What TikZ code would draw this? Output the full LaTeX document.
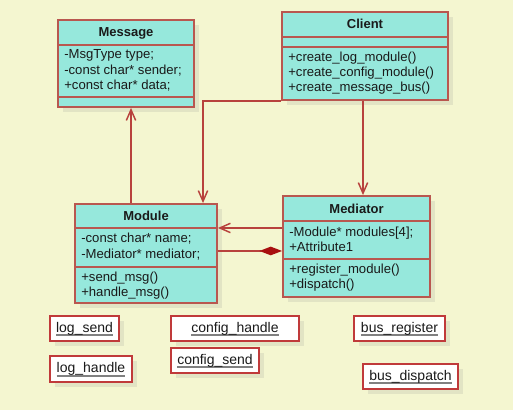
\documentclass[tikz,border=0pt]{standalone}
\usepackage{fontspec}
\setmainfont{Liberation Sans}
\usetikzlibrary{arrows.meta,fit,shadows,calc}
\definecolor{bgc}{HTML}{F4F6D0}
\definecolor{clsfill}{HTML}{96E8DC}
\definecolor{clsborder}{HTML}{B9574F}
\definecolor{lnc}{HTML}{B8423D}
\definecolor{diamc}{HTML}{A81010}
\definecolor{objborder}{HTML}{C03A3A}
\definecolor{shadowc}{HTML}{E2E4C4}
\definecolor{txtc}{HTML}{1A1A1A}
\definecolor{ulc}{HTML}{808080}
\newsavebox\oulbox
\newcommand\objul[1]{\sbox\oulbox{#1}\rlap{\textcolor{ulc}{\rule[-3.2pt]{\wd\oulbox}{1.5pt}}}\usebox\oulbox}
\begin{document}
\begin{tikzpicture}[x=0.75pt,y=-0.75pt,
  cls/.style={draw=clsborder, fill=clsfill, line width=1.4pt, inner sep=0pt,
    drop shadow={shadow xshift=4pt, shadow yshift=-4pt, fill=shadowc, opacity=1}},
  sep/.style={draw=clsborder, line width=1.4pt},
  ttl/.style={font=\fontsize{9.75}{11}\selectfont\bfseries, text=txtc, inner sep=0pt},
  mem/.style={font=\fontsize{9.85}{11}\selectfont, text=txtc, anchor=west, inner sep=0pt, text height=7pt, text depth=2pt},
  obj/.style={draw=objborder, fill=white, line width=1.3pt, inner sep=0pt,
    drop shadow={shadow xshift=4pt, shadow yshift=-4pt, fill=shadowc, opacity=1}},
  olab/.style={font=\fontsize{10.5}{12}\selectfont, text=txtc, inner sep=0pt, text height=7.5pt, text depth=2pt},
  conn/.style={draw=lnc, line width=1.1pt},
  openarr/.style={-{Straight Barb[length=8pt,width=7pt]}},
  comp/.style={-{Diamond[length=17pt,width=6.5pt,fill=diamc,color=diamc]}}
]
\fill[bgc] (0,0) rectangle (513,410);
\useasboundingbox (0,0) rectangle (513,410);

% Message
\node[cls, fit={(58,20) (194,107)}] (msg) {};
\draw[sep] (58,45) -- (194,45);
\draw[sep] (58,97) -- (194,97);
\node[ttl] (msgT) at (126,33) {Message};
\node[mem] (msg1) at (64,55) {-MsgType type;};
\node[mem] (msg2) at (64,71) {-const char* sender;};
\node[mem] (msg3) at (64,86) {+const char* data;};

% Client
\node[cls, fit={(282,12) (448,100)}] (cli) {};
\draw[sep] (282,37) -- (448,37);
\draw[sep] (282,47) -- (448,47);
\node[ttl] (cliT) at (365,24) {Client};
\node[mem] (cli1) at (288,58) {+create\_log\_module()};
\node[mem] (cli2) at (288,73) {+create\_config\_module()};
\node[mem] (cli3) at (288,88) {+create\_message\_bus()};

% Module
\node[cls, fit={(75,204) (217,303)}] (mod) {};
\draw[sep] (75,228) -- (217,228);
\draw[sep] (75,267) -- (217,267);
\node[ttl] (modT) at (146,216) {Module};
\node[mem] (mod1) at (81,239) {-const char* name;};
\node[mem] (mod2) at (81,255) {-Mediator* mediator;};
\node[mem] (mod3) at (81,278) {+send\_msg()};
\node[mem] (mod4) at (81,293) {+handle\_msg()};

% Mediator
\node[cls, fit={(283,196) (430,297)}] (med) {};
\draw[sep] (283,221) -- (430,221);
\draw[sep] (283,259) -- (430,259);
\node[ttl] (medT) at (356.5,209) {Mediator};
\node[mem] (med1) at (289,233) {-Module* modules[4];};
\node[mem] (med2) at (289,248) {+Attribute1};
\node[mem] (med3) at (289,270) {+register\_module()};
\node[mem] (med4) at (289,285) {+dispatch()};

% Objects
\node[obj, fit={(50,316) (119,341)}] (ls) {};
\node[olab] (lsT) at (ls.center) {\objul{log\_send}};
\node[obj, fit={(50,356) (132,382)}] (lh) {};
\node[olab] (lhT) at (lh.center) {\objul{log\_handle}};
\node[obj, fit={(171,316) (299,341)}] (ch) {};
\node[olab] (chT) at (ch.center) {\objul{config\_handle}};
\node[obj, fit={(171,348) (259,373)}] (cs) {};
\node[olab] (csT) at (cs.center) {\objul{config\_send}};
\node[obj, fit={(354,316) (445,341)}] (br) {};
\node[olab] (brT) at (br.center) {\objul{bus\_register}};
\node[obj, fit={(363,364) (458,389)}] (bd) {};
\node[olab] (bdT) at (bd.center) {\objul{bus\_dispatch}};

% Connectors
\draw[conn, openarr] ([xshift=-11.25pt]mod.north) -- ([xshift=-11.25pt]mod.north |- msg.south);
\draw[conn, openarr] (cli.south west) -| ([xshift=42.75pt]mod.north);
\draw[conn, openarr] ([xshift=-1.5pt]cli.south) -- ([xshift=-1.5pt]cli.south |- med.north);
\draw[conn, openarr] ([yshift=13.9pt]med.west) -- ([yshift=13.9pt]med.west -| mod.east);
\draw[conn, comp] ([yshift=1.9pt]mod.east) -- ([yshift=1.9pt]mod.east -| med.west);
\end{tikzpicture}
\end{document}
